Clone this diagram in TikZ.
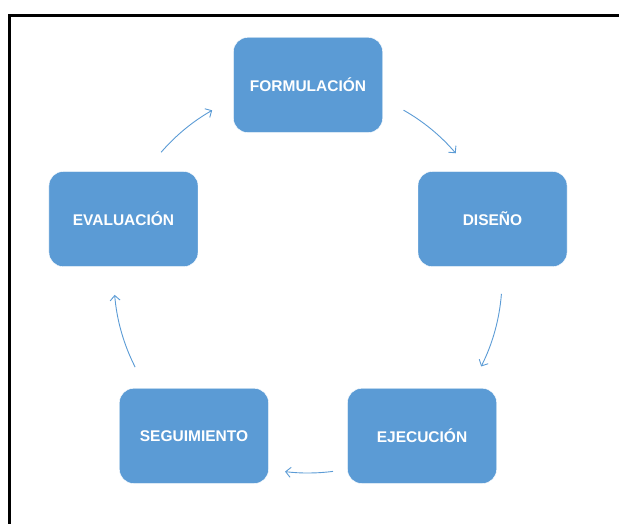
\documentclass[tikz,border=0pt]{standalone}
\usepackage{fontspec}
\setmainfont{Liberation Sans}
\usepackage{tikz}
\usetikzlibrary{arrows.meta, calc}
\definecolor{stepblue}{HTML}{5B9BD5}

\begin{document}
\begin{tikzpicture}[x = 1pt, y = 1pt,
  stepbox/.style = {rectangle, rounded corners = 14pt, fill = stepblue, draw = white,
    minimum width = 149pt, minimum height = 95pt, text = white,
    font = \fontsize{15.5}{18}\selectfont\bfseries},
  flow/.style = {draw = stepblue, line width = .9pt,
    -{Straight Barb[length = 5pt, width = 10pt]}}]
  \useasboundingbox (0, 0) rectangle (619, -524);
  % frame
  \draw[line width = 2.6pt] (9.5, -530) -- (9.5, -15.3) -- (625, -15.3);
  % the cycle
  \coordinate (c) at (308, -279);
  \node[stepbox] at ($(c) + (90:194)$) (form) {FORMULACIÓN};
  \node[stepbox] at ($(c) + (18:194)$) (dis) {DISEÑO};
  \node[stepbox] at ($(c) + (-54:194)$) (ejec) {EJECUCIÓN};
  \node[stepbox] at ($(c) + (-126:194)$) (seg) {SEGUIMIENTO};
  \node[stepbox] at ($(c) + (162:194)$) (eval) {EVALUACIÓN};
  \foreach \s/\e in {60.5/40.4, -4.4/-26.8, -82.6/-96.8, 207/184.7, 139.2/119.6}
  {
  \draw[flow] ($(c) + (\s:194)$) arc [start angle = \s, end angle = \e, radius = 194pt];
  }
\end{tikzpicture}
\end{document}
